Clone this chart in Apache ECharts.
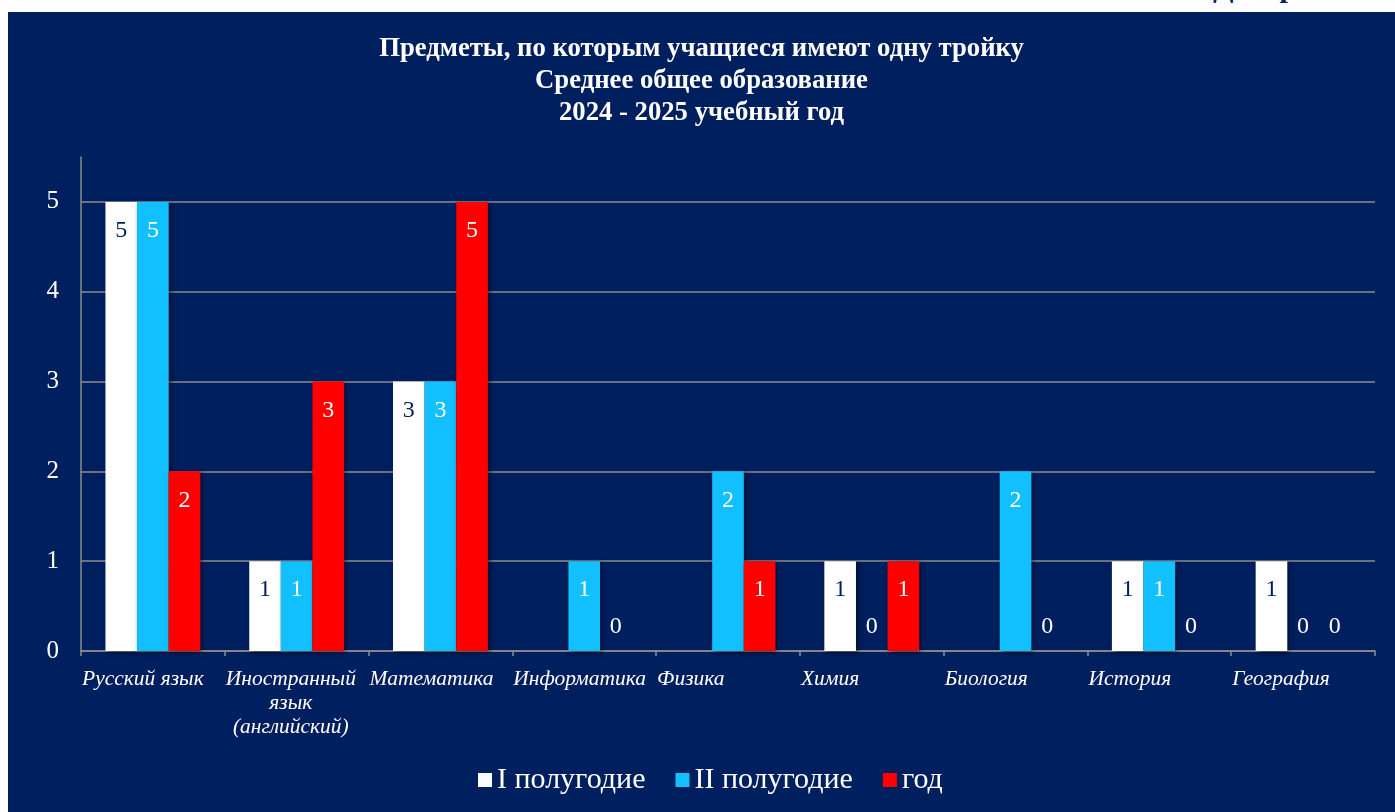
<!DOCTYPE html>
<html>
<head>
<meta charset="utf-8">
<script src="https://cdn.jsdelivr.net/npm/echarts@6/dist/echarts.min.js"></script>
<style>
  html, body { margin: 0; padding: 0; background: #ffffff; width: 1395px; height: 812px; overflow: hidden; }
  #cap { position: absolute; left: 1213px; top: -30px; font: bold 30px "Liberation Serif", serif; color: #002060; white-space: nowrap; }
  #chart { position: absolute; left: 8px; top: 12px; width: 1387px; height: 800px; background: #001F5E; }
</style>
</head>
<body>
<div id="cap">Диаграмма 6</div>
<div id="chart"></div>
<script>
const titleLines = ['Предметы, по которым учащиеся имеют одну тройку', 'Среднее общее образование', '2024 - 2025 учебный год'];
const categories = ['Русский язык', 'Иностранный\nязык\n(английский)', 'Математика', 'Информатика', 'Физика', 'Химия', 'Биология', 'История', 'География'];
const seriesNames = ['I полугодие', 'II полугодие', 'год'];
const half1 = [5, 1, 3, null, null, 1, null, 1, 1];
const half2 = [5, 1, 3, 1, 2, 0, 2, 1, 0];
const year  = [2, 3, 5, 0, 1, 1, 0, 0, 0];
const yTicks = [0, 1, 2, 3, 4, 5];

const colors = ['#FFFFFF', '#12C0FF', '#FF0000'];
const labelColors = ['#002060', '#FFFFFF', '#FFFFFF'];
const serif = '"Liberation Serif", "Times New Roman", serif';

const GRID_LEFT = 73, GRID_RIGHT = 20, CHART_W = 1387;
const catW = (CHART_W - GRID_LEFT - GRID_RIGHT) / categories.length;
const xFontSize = 21.5;

// measure label widths so each label block starts at the left edge of its category
const ctx = document.createElement('canvas').getContext('2d');
ctx.font = 'italic ' + xFontSize + 'px ' + serif;
const rich = {};
categories.forEach((c, i) => {
  const w = Math.max.apply(null, c.split('\n').map(s => ctx.measureText(s).width));
  rich['c' + i] = {
    color: '#FFFFFF', fontFamily: serif, fontStyle: 'italic', fontSize: xFontSize, lineHeight: 24,
    padding: [0, Math.max(0, catW - w - 2), 0, 0]
  };
});

function mkData(arr, idx) {
  return arr.map(v => {
    if (v === null) return null;
    if (v === 0) return { value: 0, label: { position: 'top', distance: 12, color: '#FFFFFF' } };
    return { value: v, label: { position: 'insideTop', distance: 17, color: labelColors[idx] } };
  });
}

const chart = echarts.init(document.getElementById('chart'));
chart.setOption({
  backgroundColor: '#001F5E',
  animation: false,
  title: {
    text: titleLines.join('\n'),
    left: 'center',
    top: 16,
    textStyle: { color: '#FFFFFF', fontFamily: serif, fontWeight: 'bold', fontSize: 26.7, lineHeight: 32 }
  },
  legend: {
    bottom: 12,
    left: 465,
    itemWidth: 14,
    itemHeight: 14,
    itemGap: 30,
    icon: 'rect',
    textStyle: { color: '#FFFFFF', fontFamily: serif, fontSize: 30 },
    data: seriesNames
  },
  grid: { left: GRID_LEFT, right: GRID_RIGHT, top: 145, bottom: 161, containLabel: false },
  xAxis: {
    type: 'category',
    data: categories,
    boundaryGap: true,
    axisLine: { lineStyle: { color: '#8C8C8C', width: 1.5 } },
    axisTick: { show: true, length: 5, lineStyle: { color: '#8C8C8C', width: 1.5 } },
    axisLabel: {
      color: '#FFFFFF', fontFamily: serif, fontStyle: 'italic', fontSize: xFontSize, lineHeight: 24,
      margin: 16, interval: 0,
      formatter: (v, i) => '{c' + i + '|' + v + '}',
      rich: rich
    }
  },
  yAxis: {
    type: 'value',
    min: 0, max: 5.5, interval: 1,
    axisLine: { show: true, lineStyle: { color: '#8C8C8C', width: 1.5 } },
    axisTick: { show: false },
    axisLabel: { color: '#FFFFFF', fontFamily: serif, fontSize: 25, margin: 22, showMaxLabel: false,
      formatter: v => (yTicks.indexOf(v) >= 0 ? String(v) : '') },
    splitLine: { show: true, showMaxLine: false, lineStyle: { color: '#8C8C8C', width: 1.5 } }
  },
  series: [half1, half2, year].map((arr, i) => ({
    name: seriesNames[i],
    type: 'bar',
    barGap: '0%',
    barCategoryGap: '34%',
    itemStyle: { color: colors[i], shadowBlur: 5, shadowColor: 'rgba(0,0,0,0.55)', shadowOffsetX: 2, shadowOffsetY: 2 },
    label: { show: true, fontFamily: serif, fontSize: 24 },
    data: mkData(arr, i)
  }))
});
</script>
</body>
</html>
